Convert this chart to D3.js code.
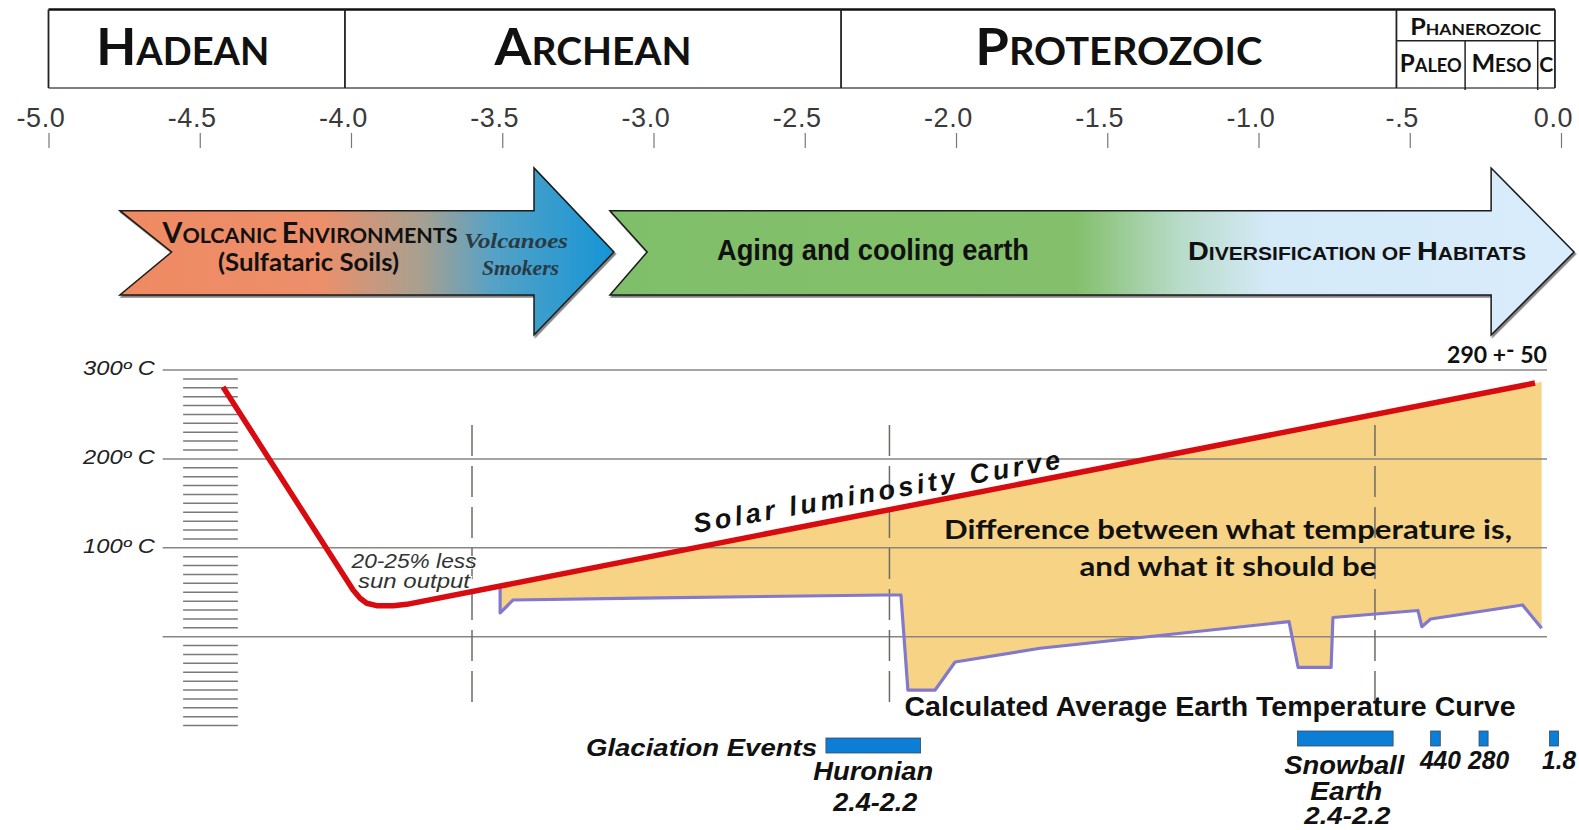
<!DOCTYPE html>
<html><head><meta charset="utf-8">
<script src="https://cdn.jsdelivr.net/npm/d3@7"></script>
<style>body{margin:0;background:#fff;} svg{display:block}</style>
</head><body><svg id="c" width="1579" height="830"></svg>
<script>
// ---------------- DATA ----------------
const eonNames = ["Hadean", "Archean", "Proterozoic", "Phanerozoic"];
const eonStarts = [-5.0, -4.02, -2.38, -0.544];
const eonEnd = -0.02;
const eraNames = ["Paleo", "Meso", "C"];
const eraStarts = [-0.544, -0.317, -0.077];

const tickValues = [-5, -4.5, -4, -3.5, -3, -2.5, -2, -1.5, -1, -0.5, 0];
const tickLabels = ["-5.0", "-4.5", "-4.0", "-3.5", "-3.0", "-2.5", "-2.0", "-1.5", "-1.0", "-.5", "0.0"];

const tempTicks = [300, 200, 100, 0];
const tempLabels = ["300º C", "200º C", "100º C", ""];

// Solar luminosity curve (Gyr, °C)
const solarAge  = [-4.423, -3.993, -3.970, -3.948, -3.915, -3.860, -3.816, -0.086];
const solarTemp = [280.9, 52.5, 43.2, 37.6, 34.9, 34.9, 36.4, 285.3];

// Calculated average earth temperature (Gyr, °C)
const earthAge  = [-3.507, -3.507, -3.464, -3.045, -2.235, -2.182, -2.159, -2.069, -2.003, -1.722, -0.899, -0.869, -0.760, -0.754, -0.473, -0.460, -0.431, -0.127, -0.064];
const earthTemp = [56, 26.7, 41.3, 43.5, 46.9, 46.9, -60, -60, -28.5, -13, 16.9, -34.6, -34.6, 21.6, 29.5, 11.2, 19.9, 35.7, 9.4];

const dashedAges = [-3.6, -2.22, -0.615];

// Glaciation events (Gyr)
const glaciationNames = ["Huronian", "Snowball Earth", "440", "280", "1.8"];
const glaciationStart = [-2.43, -0.871, -0.431, -0.271, -0.038];
const glaciationEnd   = [-2.117, -0.555, -0.399, -0.241, -0.008];

// Environment arrows (Gyr)
const arrowNames = ["Volcanic Environments", "Aging and cooling earth"];
const arrowTail  = [-4.764, -3.144];
const arrowNotch = [-4.593, -3.021];
const arrowHead  = [-3.395, -0.231];
const arrowTip   = [-3.131, 0.043];

// ---------------- SETUP ----------------
const svg = d3.select("#c");
const x = d3.scaleLinear().domain([-5, 0]).range([48.5, 1561]);
const y = d3.scaleLinear().domain([-100, 300]).range([725.6, 370]);

const SANS = "'Liberation Sans', Arial, sans-serif";
const NARROW = "'Liberation Sans Narrow', 'Liberation Sans', Arial, sans-serif";
const HUMAN = "Lato, 'Open Sans', sans-serif";

function smallCaps(sel, str, big, small) {
  str.split(" ").forEach((word, wi) => {
    if (wi > 0) sel.append("tspan").attr("font-size", small).text(" ");
    const first = word[0], rest = word.slice(1);
    const isBig = /[A-Z]/.test(first);
    sel.append("tspan").attr("font-size", isBig ? big : small).text(first.toUpperCase());
    if (rest) sel.append("tspan").attr("font-size", small).text(rest.toUpperCase());
  });
  return sel;
}

const defs = svg.append("defs");
const g1 = defs.append("linearGradient").attr("id", "grad0").attr("gradientUnits", "userSpaceOnUse")
  .attr("x1", x(-4.764)).attr("x2", x(-3.131)).attr("y1", 0).attr("y2", 0);
[[-4.764, "#ef8a63"], [-4.10, "#ec8f6a"], [-3.77, "#a8a090"], [-3.53, "#55a2c6"], [-3.131, "#1595d6"]]
  .forEach(([a, c]) => g1.append("stop").attr("offset", (x(a) - x(-4.764)) / (x(-3.131) - x(-4.764))).attr("stop-color", c));
const g2 = defs.append("linearGradient").attr("id", "grad1").attr("gradientUnits", "userSpaceOnUse")
  .attr("x1", x(-3.144)).attr("x2", x(0.043)).attr("y1", 0).attr("y2", 0);
[[-3.144, "#80bf69"], [-1.60, "#84c06c"], [-1.26, "#b8dbc9"], [-0.96, "#d5eaf9"], [0.043, "#d8ecfb"]]
  .forEach(([a, c]) => g2.append("stop").attr("offset", (x(a) - x(-3.144)) / (x(0.043) - x(-3.144))).attr("stop-color", c));
const f = defs.append("filter").attr("id", "shadow").attr("x", "-5%").attr("y", "-10%").attr("width", "110%").attr("height", "130%");
f.append("feDropShadow").attr("dx", 1.5).attr("dy", 2).attr("stdDeviation", 0.6).attr("flood-color", "#222").attr("flood-opacity", 0.55);

// ---------------- EON BOX ----------------
const boxTop = 9.5, boxBot = 88, phanMid = 40.7;
const eonG = svg.append("g");
eonG.append("line").attr("x1", x(eonStarts[0])).attr("x2", x(eonEnd)).attr("y1", boxTop).attr("y2", boxTop).attr("stroke", "#111").attr("stroke-width", 2.5);
eonG.append("line").attr("x1", x(eonStarts[0])).attr("x2", x(eonEnd)).attr("y1", boxBot).attr("y2", boxBot).attr("stroke", "#555").attr("stroke-width", 1.5);
eonStarts.concat([eonEnd]).forEach(a => {
  eonG.append("line").attr("x1", x(a)).attr("x2", x(a)).attr("y1", boxTop).attr("y2", boxBot).attr("stroke", "#222").attr("stroke-width", 1.8);
});
eonG.append("line").attr("x1", x(eonStarts[3])).attr("x2", x(eonEnd)).attr("y1", phanMid).attr("y2", phanMid).attr("stroke", "#222").attr("stroke-width", 1.5);
eraStarts.slice(1).forEach(a => {
  eonG.append("line").attr("x1", x(a)).attr("x2", x(a)).attr("y1", phanMid).attr("y2", boxBot + 2).attr("stroke", "#222").attr("stroke-width", 1.5);
});
const eonWidths = [173, 197, 287];
eonNames.forEach((n, i) => {
  const a0 = eonStarts[i], a1 = i < 3 ? eonStarts[i + 1] : eonEnd;
  const cx = (x(a0) + x(a1)) / 2;
  const t = eonG.append("text").attr("x", cx + (i === 0 ? -14 : 0)).attr("text-anchor", "middle")
    .attr("font-family", HUMAN).attr("font-weight", 700).attr("fill", "#111");
  if (i < 3) {
    t.attr("y", 65);
    smallCaps(t, n, 52, 38);
    t.attr("textLength", eonWidths[i]).attr("lengthAdjust", "spacingAndGlyphs");
  } else {
    t.attr("y", 35);
    smallCaps(t, n, 23, 16);
    t.attr("textLength", 131).attr("lengthAdjust", "spacingAndGlyphs");
  }
});
const eraWidths = [62, 60, 14];
eraNames.forEach((n, i) => {
  const a0 = eraStarts[i], a1 = i < 2 ? eraStarts[i + 1] : eonEnd;
  const t = eonG.append("text").attr("x", (x(a0) + x(a1)) / 2).attr("y", 72).attr("text-anchor", "middle")
    .attr("font-family", HUMAN).attr("font-weight", 700).attr("fill", "#111");
  if (n === "C") t.attr("font-size", 20).text("C");
  else smallCaps(t, n, 24, 18);
  t.attr("textLength", eraWidths[i]).attr("lengthAdjust", "spacingAndGlyphs");
});

// ---------------- TIME AXIS ----------------
const axis = d3.axisBottom(x).tickValues(tickValues).tickFormat((d, i) => tickLabels[i]).tickSize(15);
const axG = svg.append("g").attr("transform", "translate(0,133)").call(axis);
axG.select(".domain").remove();
axG.selectAll(".tick line").attr("stroke", "#777").attr("stroke-width", 1.2);
axG.selectAll(".tick text").attr("y", -6).attr("dy", 0).attr("dx", -8)
  .attr("font-family", SANS).attr("font-size", 27).attr("fill", "#3a3a3a").attr("letter-spacing", 0.6);

// ---------------- ARROWS ----------------
const aTop = 210.7, aBot = 295, aHeadTop = 168, aHeadBot = 335, aMid = 252;
arrowNames.forEach((n, i) => {
  const xt = x(arrowTail[i]), xn = x(arrowNotch[i]), xh = x(arrowHead[i]), xp = x(arrowTip[i]);
  const d = `M${xt},${aTop} L${xh},${aTop} L${xh},${aHeadTop} L${xp},${aMid} L${xh},${aHeadBot} L${xh},${aBot} L${xt},${aBot} L${xn},${aMid} Z`;
  svg.append("path").attr("d", d).attr("fill", `url(#grad${i})`).attr("stroke", "#1a1a1a")
    .attr("stroke-width", 1.5).attr("stroke-linejoin", "miter").attr("filter", "url(#shadow)");
});
// arrow texts
let t = svg.append("text").attr("x", 310).attr("y", 243).attr("text-anchor", "middle")
  .attr("font-family", HUMAN).attr("font-weight", 700).attr("fill", "#111");
smallCaps(t, "Volcanic Environments", 28, 21);
t.attr("textLength", 295).attr("lengthAdjust", "spacingAndGlyphs");
svg.append("text").attr("x", 308.5).attr("y", 271).attr("text-anchor", "middle")
  .attr("font-family", HUMAN).attr("font-weight", 700).attr("font-size", 24).attr("fill", "#111")
  .attr("textLength", 181).attr("lengthAdjust", "spacingAndGlyphs").text("(Sulfataric Soils)");
svg.append("text").attr("x", 516).attr("y", 248).attr("text-anchor", "middle")
  .attr("font-family", "'Liberation Serif', serif").attr("font-style", "italic").attr("font-weight", 700)
  .attr("font-size", 20).attr("fill", "#2a3a44").attr("textLength", 104).attr("lengthAdjust", "spacingAndGlyphs").text("Volcanoes");
svg.append("text").attr("x", 520.5).attr("y", 275).attr("text-anchor", "middle")
  .attr("font-family", "'Liberation Serif', serif").attr("font-style", "italic").attr("font-weight", 700)
  .attr("font-size", 20).attr("fill", "#2a3a44").attr("textLength", 77).attr("lengthAdjust", "spacingAndGlyphs").text("Smokers");
svg.append("text").attr("x", 873).attr("y", 260).attr("text-anchor", "middle")
  .attr("font-family", NARROW).attr("font-weight", 700).attr("font-size", 30).attr("fill", "#111")
  .attr("textLength", 312).attr("lengthAdjust", "spacingAndGlyphs").text(arrowNames[1]);
t = svg.append("text").attr("x", 1357).attr("y", 260).attr("text-anchor", "middle")
  .attr("font-family", NARROW).attr("font-weight", 700).attr("fill", "#111");
smallCaps(t, "Diversification of Habitats", 26, 19);
t.attr("textLength", 338).attr("lengthAdjust", "spacingAndGlyphs");

// ---------------- TEMPERATURE PLOT ----------------
// hatch scale
const hatchVals = d3.range(-100, 300, 10).filter(v => !tempTicks.includes(v));
svg.append("g").selectAll("line").data(hatchVals).join("line")
  .attr("x1", x(-4.555)).attr("x2", x(-4.374)).attr("y1", d => y(d)).attr("y2", d => y(d))
  .attr("stroke", "#7d7a78").attr("stroke-width", 1.5);

const solarPts = solarAge.map((a, i) => [a, solarTemp[i]]);
const earthPts = earthAge.map((a, i) => [a, earthTemp[i]]);
function solarAt(a) {
  let i = solarAge.length - 2;
  for (let k = 0; k < solarAge.length - 1; k++) { if (a <= solarAge[k + 1]) { i = k; break; } }
  const t0 = (a - solarAge[i]) / (solarAge[i + 1] - solarAge[i]);
  return solarTemp[i] + t0 * (solarTemp[i + 1] - solarTemp[i]);
}
const line = d3.line().x(d => x(d[0])).y(d => y(d[1]));
const aFirst = earthAge[0], aLast = earthAge[earthAge.length - 1];
const areaPts = [[aFirst, solarAt(aFirst)], [aLast, solarAt(aLast)]].concat(earthPts.slice().reverse());
svg.append("path").attr("d", line(areaPts) + "Z").attr("fill", "#f7d485");

// gridlines
svg.append("g").selectAll("line").data(tempTicks).join("line")
  .attr("x1", 162.7).attr("x2", 1547).attr("y1", d => y(d)).attr("y2", d => y(d))
  .attr("stroke", "#8a8580").attr("stroke-width", 1.5);
svg.append("g").selectAll("text").data(tempTicks.filter((d, i) => tempLabels[i])).join("text")
  .attr("x", 155).attr("y", d => y(d) + 5).attr("text-anchor", "end")
  .attr("font-family", SANS).attr("font-style", "italic").attr("font-size", 20).attr("fill", "#222")
  .attr("textLength", 72).attr("lengthAdjust", "spacingAndGlyphs")
  .text((d, i) => tempLabels[i]);

// dashed lines
svg.append("g").selectAll("line").data(dashedAges).join("line")
  .attr("x1", d => x(d)).attr("x2", d => x(d)).attr("y1", y(238)).attr("y2", y(-79))
  .attr("stroke", "#6e6a66").attr("stroke-width", 1.5).attr("stroke-dasharray", "31,10");

// curves
svg.append("path").attr("d", line(earthPts)).attr("fill", "none").attr("stroke", "#8278cc")
  .attr("stroke-width", 3.2).attr("stroke-linejoin", "round");
svg.append("path").attr("d", line(solarPts)).attr("fill", "none").attr("stroke", "#d80b10")
  .attr("stroke-width", 5.5).attr("stroke-linejoin", "round");

// annotations
svg.append("text").attr("transform", "translate(695,533) rotate(-10)")
  .attr("font-family", SANS).attr("font-weight", 700).attr("font-style", "italic").attr("font-size", 27)
  .attr("fill", "#111").attr("textLength", 372).attr("lengthAdjust", "spacing").text("Solar luminosity Curve");
svg.append("text").attr("x", 1228).attr("y", 538.5).attr("text-anchor", "middle")
  .attr("font-family", HUMAN).attr("font-weight", 700).attr("font-size", 27).attr("fill", "#111")
  .attr("textLength", 568).attr("lengthAdjust", "spacingAndGlyphs").text("Difference between what temperature is,");
svg.append("text").attr("x", 1228).attr("y", 576).attr("text-anchor", "middle")
  .attr("font-family", HUMAN).attr("font-weight", 700).attr("font-size", 27).attr("fill", "#111")
  .attr("textLength", 297).attr("lengthAdjust", "spacingAndGlyphs").text("and what it should be");
svg.append("text").attr("x", 1210).attr("y", 716).attr("text-anchor", "middle")
  .attr("font-family", NARROW).attr("font-weight", 700).attr("font-size", 28).attr("fill", "#111")
  .attr("textLength", 611).attr("lengthAdjust", "spacingAndGlyphs").text("Calculated Average Earth Temperature Curve");
["20-25% less", "sun output"].forEach((s, i) => {
  svg.append("text").attr("x", 414).attr("y", 568 + i * 20).attr("text-anchor", "middle")
    .attr("font-family", SANS).attr("font-style", "italic").attr("font-size", 20).attr("fill", "#333")
    .attr("stroke", "#fff").attr("stroke-width", 2).attr("paint-order", "stroke")
    .attr("textLength", i === 0 ? 125 : 112).attr("lengthAdjust", "spacingAndGlyphs").text(s);
});
t = svg.append("text").attr("x", 1497).attr("y", 363).attr("text-anchor", "middle")
  .attr("font-family", HUMAN).attr("font-weight", 700).attr("font-size", 23).attr("fill", "#111");
t.append("tspan").text("290 +");
t.append("tspan").attr("dy", -5).text("-");
t.append("tspan").attr("dy", 5).text(" 50");

// ---------------- GLACIATION EVENTS ----------------
svg.append("text").attr("x", 586).attr("y", 756).attr("font-family", SANS).attr("font-weight", 700)
  .attr("font-style", "italic").attr("font-size", 23).attr("fill", "#111")
  .attr("textLength", 231).attr("lengthAdjust", "spacingAndGlyphs").text("Glaciation Events");
const barTop = glaciationNames.map((d, i) => i === 0 ? 738 : 731);
svg.append("g").selectAll("rect").data(glaciationNames).join("rect")
  .attr("x", (d, i) => x(glaciationStart[i])).attr("width", (d, i) => x(glaciationEnd[i]) - x(glaciationStart[i]))
  .attr("y", (d, i) => barTop[i]).attr("height", 15)
  .attr("fill", "#0c7ed6").attr("stroke", "#3b4a5a").attr("stroke-width", 0.8);

function glLabel(txt, cx, by, w, fs) {
  svg.append("text").attr("x", cx).attr("y", by).attr("text-anchor", "middle")
    .attr("font-family", SANS).attr("font-weight", 700).attr("font-style", "italic").attr("font-size", fs || 25)
    .attr("fill", "#111").attr("textLength", w).attr("lengthAdjust", "spacingAndGlyphs").text(txt);
}
const hc = (x(glaciationStart[0]) + x(glaciationEnd[0])) / 2;
glLabel("Huronian", hc, 780, 120);
glLabel("2.4-2.2", hc + 2, 811, 84);
const sc = (x(glaciationStart[1]) + x(glaciationEnd[1])) / 2;
glLabel("Snowball", sc - 1, 774, 120);
glLabel("Earth", sc + 1, 800, 72);
glLabel("2.4-2.2", sc + 2, 824, 86, 23);
[2, 3, 4].forEach(i => {
  const c = (x(glaciationStart[i]) + x(glaciationEnd[i])) / 2;
  glLabel(glaciationNames[i], c + 5, 769, glaciationNames[i] !== "1.8" ? 41 : 34);
});
</script></body></html>
